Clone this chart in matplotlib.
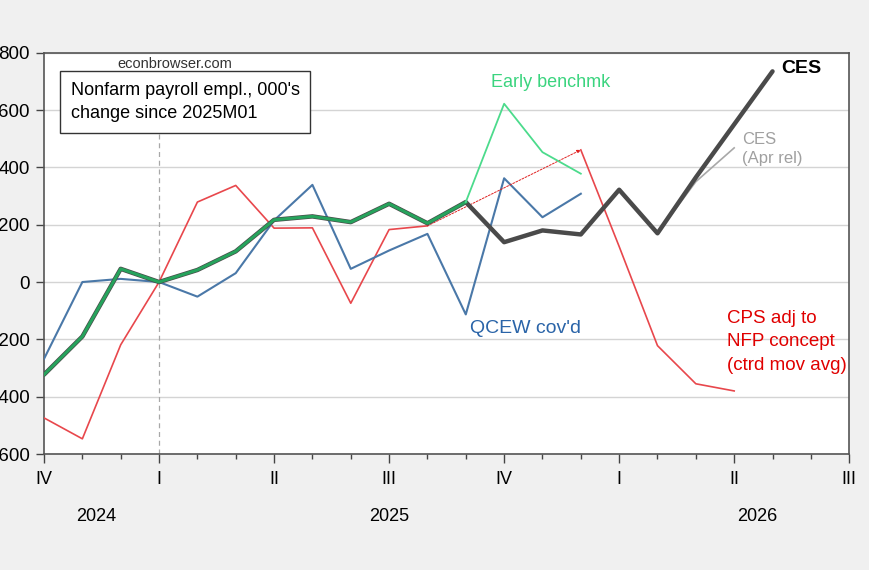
import numpy as np
import matplotlib
matplotlib.use("Agg")
import matplotlib.pyplot as plt
from matplotlib.ticker import MultipleLocator
import matplotlib.transforms as mtransforms

plt.rcParams['font.family'] = ['Liberation Sans', 'DejaVu Sans']

nan = np.nan
# months from 2024M10 (index 0) to 2026M07 (index 21)
months = np.arange(22)

ces = [-323, -190, 46, 0, 42, 107, 217, 229, 209, 273, 205, 279,
       139, 180, 166, 322, 170, 365, 550, 735]
ces_apr = [nan] * 15 + [322, 170, 350, 468]
early_bench = [-323, -190, 46, 0, 42, 107, 217, 229, 209, 273, 205, 279,
               622, 453, 378]
qcew = [-268, 0, 11, 0, -51, 31, 215, 339, 46, 110, 168, -113,
        362, 226, 308]
cps = [-474, -547, -219, 0, 279, 337, 188, 189, -74, 183, 196,
       nan, nan, nan, 461, 124, -222, -355, -380]

q_labels = ["IV", "I", "II", "III", "IV", "I", "II", "III"]
years = ["2024", "2025", "2026"]
year_pos = [1.37, 9.0, 18.6]

fig = plt.figure(figsize=(8.7, 5.7), dpi=100, facecolor='#f0f0f0')
ax = fig.add_axes([0.0506, 0.2035, 0.9255, 0.704])
ax.set_facecolor('white')

ax.set_xlim(0, 21)
ax.set_ylim(-600, 800)
ax.yaxis.set_major_locator(MultipleLocator(200))
ax.grid(axis='y', color='#d4d4d4', lw=1.0)
ax.set_axisbelow(True)

# reference line at 2025M01
ax.axvline(3, color='#a8a8a8', lw=0.9, ls=(0, (4, 3)), zorder=1)

# series
ax.plot(months[:len(cps)], cps, color='#e8474c', lw=1.2, zorder=3)
ax.plot(months[:len(qcew)], qcew, color='#4a78a8', lw=1.5, zorder=3)
ax.plot(months[:len(ces_apr)], ces_apr, color='#a8a8a8', lw=1.2, zorder=3)
ax.plot(months[:len(ces)], ces, color='#4a4a4a', lw=3.2, zorder=4,
        solid_capstyle='round', solid_joinstyle='round')
ax.plot(months[:12], early_bench[:12], color='#26a35c', lw=2.2, zorder=5)
ax.plot(months[11:len(early_bench)], early_bench[11:], color='#4cdb8c', lw=1.3, zorder=5)

# dotted connector on CPS
ax.annotate("", xy=(14, cps[14]), xytext=(10, cps[10]),
            arrowprops=dict(arrowstyle='-|>', color='#e02020', lw=0.7,
                            ls=(0, (2, 1.5)), mutation_scale=5,
                            shrinkA=0, shrinkB=0), zorder=3)

# ticks
ax.set_xticks(np.arange(0, 22, 3))
ax.set_xticks(months, minor=True)
ax.set_xticklabels(q_labels, fontsize=13)
ax.tick_params(axis='x', which='major', length=6.5, width=1.0, pad=6, color='#444444')
ax.tick_params(axis='x', which='minor', length=3.6, width=1.0, color='#444444')
ax.tick_params(axis='y', length=6, width=1.0, pad=4.3, labelsize=13.5, color='#444444')
ax.set_yticks(np.arange(-600, 801, 200))
ax.set_yticklabels([str(v) for v in np.arange(-600, 801, 200)])
for s in ax.spines.values():
    s.set_color('#555555')
    s.set_linewidth(1.2)

trans = mtransforms.blended_transform_factory(ax.transData, ax.transAxes)
for yr, xp in zip(years, year_pos):
    ax.text(xp, -0.155, yr, transform=trans, ha='center', va='center', fontsize=13)

# annotations
ax.text(0.163, 0.973, "econbrowser.com", transform=ax.transAxes, ha='center',
        va='center', fontsize=10.5, color='#333333', zorder=6,
        bbox=dict(facecolor='white', edgecolor='none', pad=1))
ax.text(0.033, 0.877, "Nonfarm payroll empl., 000's\nchange since 2025M01",
        transform=ax.transAxes, ha='left', va='center', fontsize=13,
        linespacing=1.5, zorder=6,
        bbox=dict(facecolor='white', edgecolor='#333333', lw=1.0,
                  boxstyle='square,pad=0.6'))
ax.text(11.65, 696, "Early benchmk", color='#3bd47f', fontsize=13, ha='left', va='center')
ax.text(19.22, 745, "CES", color='black', fontsize=14, fontweight='bold', ha='left', va='center')
ax.text(18.2, 465, "CES\n(Apr rel)", color='#a0a0a0', fontsize=12, ha='left',
        va='center', linespacing=1.35)
ax.text(11.1, -163, "QCEW cov'd", color='#2a64a8', fontsize=14, ha='left', va='center')
ax.text(17.8, -208, "CPS adj to\nNFP concept\n(ctrd mov avg)", color='#e00000',
        fontsize=13.5, ha='left', va='center', linespacing=1.5)

fig.savefig("out.png", dpi=100, facecolor=fig.get_facecolor())
